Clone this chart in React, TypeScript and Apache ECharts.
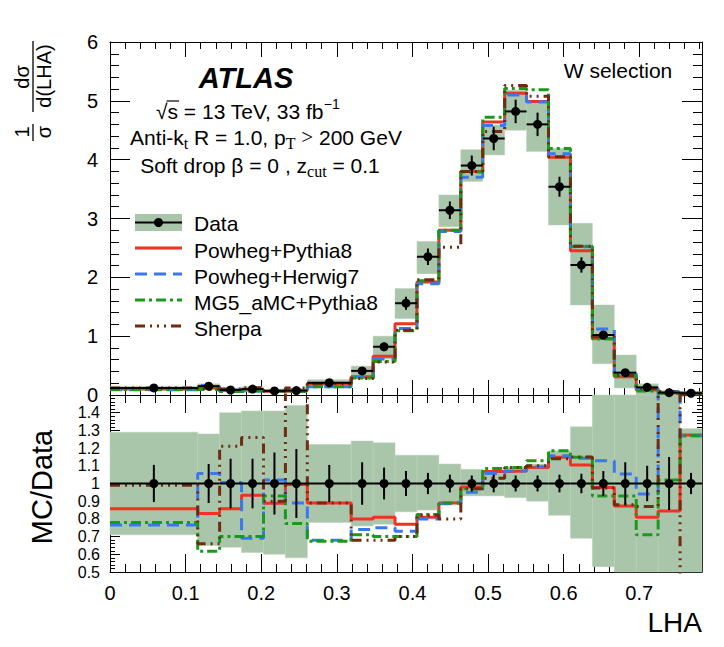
import React, { useEffect, useRef } from 'react';
import * as echarts from 'echarts';

const FONT = '"Liberation Sans", Arial, Helvetica, sans-serif';
const SERIF = '"Liberation Serif", "Times New Roman", serif';
const BAND = '#aac6aa';
const RED = '#ee3322';
const BLUE = '#3a78f0';
const GREEN = '#1a9a1a';
const BROWN = '#6e2c10';

// LHA bin edges (23 bins)
const binEdges = [0, 0.116, 0.145, 0.174, 0.203, 0.232, 0.261, 0.319, 0.348, 0.377, 0.406, 0.435, 0.464, 0.493, 0.522, 0.551, 0.58, 0.609, 0.638, 0.667, 0.696, 0.725, 0.754, 0.783];

// Top panel: normalised cross-section
const dataVals = [0.12, 0.15, 0.085, 0.1, 0.07, 0.075, 0.21, 0.41, 0.82, 1.56, 2.35, 3.14, 3.9, 4.36, 4.82, 4.6, 3.54, 2.21, 1.02, 0.38, 0.13, 0.04, 0.03];
const dataStatErr = [0.015, 0.02, 0.015, 0.015, 0.015, 0.015, 0.02, 0.05, 0.07, 0.11, 0.14, 0.15, 0.17, 0.2, 0.2, 0.2, 0.17, 0.13, 0.07, 0.04, 0.015, 0.01, 0.01];
const dataBandLo = [0.09, 0.1, 0.055, 0.06, 0.04, 0.045, 0.16, 0.32, 0.61, 1.3, 2.06, 2.86, 3.63, 4.08, 4.5, 4.14, 2.89, 1.53, 0.53, 0.12, 0, 0, 0];
const dataBandHi = [0.15, 0.19, 0.12, 0.14, 0.1, 0.11, 0.26, 0.49, 1.0, 1.81, 2.61, 3.4, 4.17, 4.59, 5.18, 4.99, 4.19, 2.92, 1.53, 0.68, 0.19, 0.08, 0.05];

const powPy8 = [0.1, 0.12, 0.075, 0.09, 0.065, 0.075, 0.19, 0.31, 0.66, 1.21, 1.92, 2.8, 3.8, 4.64, 5.13, 4.99, 4.04, 2.45, 0.96, 0.31, 0.085, 0.035, 0.035];
const powH7 = [0.09, 0.16, 0.085, 0.07, 0.07, 0.065, 0.14, 0.3, 0.61, 1.13, 1.89, 2.78, 3.7, 4.58, 5.1, 4.98, 4.1, 2.52, 1.12, 0.36, 0.11, 0.06, 0.035];
const mg5Py8 = [0.095, 0.095, 0.06, 0.07, 0.065, 0.058, 0.14, 0.29, 0.57, 1.09, 1.94, 2.8, 3.79, 4.72, 5.21, 5.19, 4.19, 2.53, 0.95, 0.33, 0.07, 0.03, 0.03];
const sherpa = [0.12, 0.1, 0.1, 0.125, 0.065, 0.12, 0.19, 0.28, 0.56, 1.1, 1.96, 2.51, 3.8, 4.48, 5.26, 5.08, 4.05, 2.53, 0.99, 0.33, 0.11, 0.06, 0.0];

// Bottom panel: MC / Data
const ratioStatErr = [0.105, 0.11, 0.14, 0.14, 0.175, 0.195, 0.105, 0.12, 0.09, 0.07, 0.06, 0.05, 0.045, 0.05, 0.045, 0.045, 0.05, 0.055, 0.07, 0.12, 0.1, 0.15, 0.06];
const ratioBandLo = [0.71, 0.65, 0.64, 0.61, 0.6, 0.58, 0.78, 0.76, 0.77, 0.84, 0.85, 0.89, 0.93, 0.93, 0.92, 0.9, 0.82, 0.69, 0.53, 0.3, 0, 0, 0];
const ratioBandHi = [1.29, 1.28, 1.4, 1.41, 1.41, 1.44, 1.22, 1.24, 1.23, 1.16, 1.16, 1.11, 1.08, 1.07, 1.09, 1.11, 1.185, 1.32, 1.6, 1.7, 2, 2, 1.31];
const ratioPowPy8 = [0.858, 0.83, 0.858, 0.934, 0.888, 0.995, 0.89, 0.8, 0.81, 0.77, 0.81, 0.89, 0.98, 1.068, 1.07, 1.09, 1.148, 1.104, 0.977, 0.873, 0.81, 0.845, 1.274];
const ratioPowH7 = [0.765, 1.057, 1.005, 0.69, 1.02, 0.89, 0.68, 0.74, 0.75, 0.73, 0.8, 0.885, 0.95, 1.057, 1.07, 1.095, 1.157, 1.142, 1.128, 1.053, 0.94, 1.7, 1.27];
const ratioMg5Py8 = [0.78, 0.617, 0.7, 0.7, 0.93, 0.774, 0.674, 0.71, 0.7, 0.7, 0.825, 0.89, 0.97, 1.085, 1.09, 1.128, 1.185, 1.148, 0.93, 0.93, 0.71, 1.02, 1.27];
const ratioSherpa = [0.99, 0.66, 1.21, 1.26, 0.9, 1.7, 0.89, 0.68, 0.68, 0.7, 0.82, 0.8, 0.97, 1.03, 1.09, 1.1, 1.14, 1.15, 0.975, 0.88, 0.87, 1.7, 0.0];
const ratioData = [1, 1, 1, 1, 1, 1, 1, 1, 1, 1, 1, 1, 1, 1, 1, 1, 1, 1, 1, 1, 1, 1, 1];

const xTicks = { min: 0, max: 0.783, interval: 0.1 };
const yTopTicks = { min: 0, max: 6, interval: 1 };
const yBotTicks = { min: 0.5, max: 1.5, interval: 0.1 };

const models = [
  { name: 'Powheg+Pythia8', top: powPy8, ratio: ratioPowPy8, color: RED, dash: 'solid' as any },
  { name: 'Powheg+Herwig7', top: powH7, ratio: ratioPowH7, color: BLUE, dash: [12, 7] },
  { name: 'MG5_aMC+Pythia8', top: mg5Py8, ratio: ratioMg5Py8, color: GREEN, dash: [10, 4, 3, 4] },
  { name: 'Sherpa', top: sherpa, ratio: ratioSherpa, color: BROWN, dash: [10, 5, 2, 5, 2, 5, 2, 5] },
];

function stepData(vals: number[]) {
  return binEdges.map((e, i) => [e, vals[Math.min(i, vals.length - 1)]]);
}

function bandSeries(xi: number, yi: number, lo: number[], hi: number[], yMin: number, yMax: number) {
  return {
    type: 'custom',
    xAxisIndex: xi,
    yAxisIndex: yi,
    silent: true,
    z: 1,
    data: lo.map((l, i) => [binEdges[i], binEdges[i + 1], l, hi[i]]),
    encode: { x: [0, 1], y: [2, 3] },
    renderItem: (_p: any, api: any) => {
      const y0 = Math.max(api.value(2), yMin);
      const y1 = Math.min(api.value(3), yMax);
      if (y1 <= y0) return null;
      const a = api.coord([api.value(0), y1]);
      const b = api.coord([api.value(1), y0]);
      return {
        type: 'rect',
        shape: { x: a[0], y: a[1], width: b[0] - a[0], height: b[1] - a[1] },
        style: { fill: BAND, stroke: '#b8d0b8', lineWidth: 0.5 },
      };
    },
  };
}

function dataSeries(xi: number, yi: number, vals: number[], errs: number[]) {
  return {
    type: 'custom',
    xAxisIndex: xi,
    yAxisIndex: yi,
    silent: true,
    z: 5,
    data: vals.map((v, i) => [(binEdges[i] + binEdges[i + 1]) / 2, v, binEdges[i], binEdges[i + 1], errs[i]]),
    encode: { x: 0, y: 1 },
    renderItem: (_p: any, api: any) => {
      const x = api.value(0), y = api.value(1), e = api.value(4);
      const c = api.coord([x, y]);
      const l = api.coord([api.value(2), y]);
      const r = api.coord([api.value(3), y]);
      const t = api.coord([x, y + e]);
      const b = api.coord([x, y - e]);
      const st = { stroke: '#000', lineWidth: 2 };
      return {
        type: 'group',
        children: [
          { type: 'line', shape: { x1: l[0], y1: c[1], x2: r[0], y2: c[1] }, style: st },
          { type: 'line', shape: { x1: c[0], y1: t[1], x2: c[0], y2: b[1] }, style: st },
          { type: 'circle', shape: { cx: c[0], cy: c[1], r: 4.5 }, style: { fill: '#000' } },
        ],
      };
    },
  };
}

function lineSeries(xi: number, yi: number, vals: number[], color: string, dash: any, z: number) {
  return {
    type: 'line',
    xAxisIndex: xi,
    yAxisIndex: yi,
    step: 'end',
    symbol: 'none',
    clip: true,
    silent: true,
    z,
    data: stepData(vals),
    lineStyle: { color, width: 3, type: dash, cap: 'butt' },
  };
}

function xAx(grid: number, position: string, showLabel: boolean, tickLen: number, minorLen: number) {
  return {
    type: 'value',
    gridIndex: grid,
    position,
    ...xTicks,
    axisLine: { show: true, onZero: false, lineStyle: { color: '#000', width: 1 } },
    axisTick: { show: true, inside: true, length: tickLen, lineStyle: { color: '#000', width: 1 } },
    minorTick: { show: true, splitNumber: 5, length: minorLen, lineStyle: { color: '#000', width: 1 } },
    axisLabel: { show: showLabel, showMinLabel: true, showMaxLabel: false, hideOverlap: false, color: '#000', fontSize: 20, fontFamily: FONT, margin: 11 },
    splitLine: { show: false },
  };
}

function yAx(grid: number, position: string, ticks: any, showLabel: boolean, tickLen: number, minorLen: number, fontSize: number, margin: number, showMax: boolean) {
  return {
    type: 'value',
    gridIndex: grid,
    position,
    ...ticks,
    axisLine: { show: true, onZero: false, lineStyle: { color: '#000', width: 1 } },
    axisTick: { show: true, inside: true, length: tickLen, lineStyle: { color: '#000', width: 1 } },
    minorTick: { show: true, splitNumber: 5, length: minorLen, lineStyle: { color: '#000', width: 1 } },
    axisLabel: { show: showLabel, showMinLabel: true, showMaxLabel: showMax, hideOverlap: false, color: '#000', fontSize, fontFamily: FONT, margin, lineHeight: fontSize },
    splitLine: { show: false },
  };
}

export default function App() {
  const ref = useRef<HTMLDivElement>(null);
  useEffect(() => {
    const chart = echarts.init(ref.current!, null, { renderer: 'svg' });
    const ctx = document.createElement('canvas').getContext('2d')!;
    ctx.font = `21px ${FONT}`;
    const wRoot = ctx.measureText('\u221A').width;
    const wRootS = ctx.measureText('\u221As').width;

    const rich = {
      n: { fontSize: 21, fontFamily: FONT, lineHeight: 28, color: '#000' },
      ser: { fontSize: 21, fontFamily: SERIF, lineHeight: 28, color: '#000' },
      sub: { fontSize: 16, fontFamily: SERIF, lineHeight: 8, verticalAlign: 'bottom', color: '#000' },
      sup: { fontSize: 14, fontFamily: FONT, lineHeight: 14, verticalAlign: 'top', color: '#000' },
    };

    const legendX0 = 135, legendX1 = 182, legendTextX = 194;
    const legendRows = [250, 276, 302, 328];

    const graphic: any[] = [
      { type: 'text', x: 246, y: 78, style: { text: 'ATLAS', font: `italic bold 29px ${FONT}`, fill: '#000', align: 'center', verticalAlign: 'middle' } },
      { type: 'text', x: 156, y: 111, style: { text: '{n|\u221As = 13 TeV, 33 fb}{sup|\u22121}', rich, align: 'left', verticalAlign: 'middle' } },
      { type: 'line', shape: { x1: 156 + wRoot - 1, y1: 101, x2: 156 + wRootS + 1, y2: 101 }, style: { stroke: '#000', lineWidth: 1.2 } },
      { type: 'text', x: 266, y: 137, style: { text: '{n|Anti-k}{sub|t}{n| R = 1.0, p}{sub|T}{n| }{ser|>}{n| 200 GeV}', rich, align: 'center', verticalAlign: 'middle' } },
      { type: 'text', x: 260, y: 165, style: { text: '{n|Soft drop \u03B2 = 0 , z}{sub|cut}{n| = 0.1}', rich, align: 'center', verticalAlign: 'middle' } },
      { type: 'text', x: 618, y: 70, style: { text: 'W selection', font: `21px ${FONT}`, fill: '#000', align: 'center', verticalAlign: 'middle' } },
      // legend: Data
      { type: 'rect', shape: { x: legendX0, y: 214, width: legendX1 - legendX0, height: 17 }, style: { fill: BAND } },
      { type: 'line', shape: { x1: legendX0, y1: 222.5, x2: legendX1, y2: 222.5 }, style: { stroke: '#000', lineWidth: 2 } },
      { type: 'circle', shape: { cx: (legendX0 + legendX1) / 2, cy: 222.5, r: 4.5 }, style: { fill: '#000' } },
      { type: 'text', x: legendTextX, y: 223, style: { text: 'Data', font: `21px ${FONT}`, fill: '#000', align: 'left', verticalAlign: 'middle' } },
      // axis titles
      { type: 'text', x: 22, y: 132, rotation: Math.PI / 2, style: { text: '1', font: `20px ${FONT}`, fill: '#000', align: 'center', verticalAlign: 'middle' } },
      { type: 'text', x: 44, y: 132, rotation: Math.PI / 2, style: { text: '\u03C3', font: `20px ${FONT}`, fill: '#000', align: 'center', verticalAlign: 'middle' } },
      { type: 'line', shape: { x1: 33, y1: 124, x2: 33, y2: 141 }, style: { stroke: '#000', lineWidth: 1.3 } },
      { type: 'text', x: 22, y: 77, rotation: Math.PI / 2, style: { text: 'd\u03C3', font: `20px ${FONT}`, fill: '#000', align: 'center', verticalAlign: 'middle' } },
      { type: 'text', x: 44, y: 76, rotation: Math.PI / 2, style: { text: 'd(LHA)', font: `20px ${FONT}`, fill: '#000', align: 'center', verticalAlign: 'middle' } },
      { type: 'line', shape: { x1: 33, y1: 41, x2: 33, y2: 112 }, style: { stroke: '#000', lineWidth: 1.3 } },
      { type: 'text', x: 42, y: 487, rotation: Math.PI / 2, style: { text: 'MC/Data', font: `29px ${FONT}`, fill: '#000', align: 'center', verticalAlign: 'middle' } },
      { type: 'text', x: 702, y: 622, style: { text: 'LHA', font: `28px ${FONT}`, fill: '#000', align: 'right', verticalAlign: 'middle' } },
    ];
    models.forEach((m, i) => {
      const y = legendRows[i];
      graphic.push({ type: 'line', shape: { x1: legendX0, y1: y - 2, x2: legendX1, y2: y - 2 }, style: { stroke: m.color, lineWidth: 3, lineDash: Array.isArray(m.dash) ? m.dash : null } });
      graphic.push({ type: 'text', x: legendTextX, y, style: { text: m.name, font: `21px ${FONT}`, fill: '#000', align: 'left', verticalAlign: 'middle' } });
    });

    const series: any[] = [
      bandSeries(0, 0, dataBandLo, dataBandHi, yTopTicks.min, yTopTicks.max),
      bandSeries(2, 2, ratioBandLo, ratioBandHi, yBotTicks.min, yBotTicks.max),
    ];
    models.forEach((m, i) => {
      series.push(lineSeries(0, 0, m.top, m.color, m.dash, 2 + i * 0.1));
      series.push(lineSeries(2, 2, m.ratio, m.color, m.dash, 2 + i * 0.1));
    });
    series.push(dataSeries(0, 0, dataVals, dataStatErr));
    series.push(dataSeries(2, 2, ratioData, ratioStatErr));

    const option: any = {
      animation: false,
      backgroundColor: '#fff',
      textStyle: { fontFamily: FONT },
      grid: [
        { left: 110, top: 42, width: 592, height: 353, containLabel: false },
        { left: 110, top: 395, width: 592, height: 177, containLabel: false },
      ],
      xAxis: [
        xAx(0, 'bottom', false, 15, 7),
        xAx(0, 'top', false, 15, 7),
        xAx(1, 'bottom', true, 18, 8),
        xAx(1, 'top', false, 18, 8),
      ],
      yAxis: [
        yAx(0, 'left', yTopTicks, true, 20, 9, 20, 12, true),
        yAx(0, 'right', yTopTicks, false, 20, 9, 20, 12, true),
        yAx(1, 'left', yBotTicks, true, 10, 5, 16, 10, false),
        yAx(1, 'right', yBotTicks, false, 10, 5, 16, 10, false),
      ],
      series,
      graphic,
    };
    chart.setOption(option);
    return () => chart.dispose();
  }, []);
  return <div ref={ref} style={{ position: 'absolute', left: 0, top: 0, width: 724, height: 647 }} />;
}
